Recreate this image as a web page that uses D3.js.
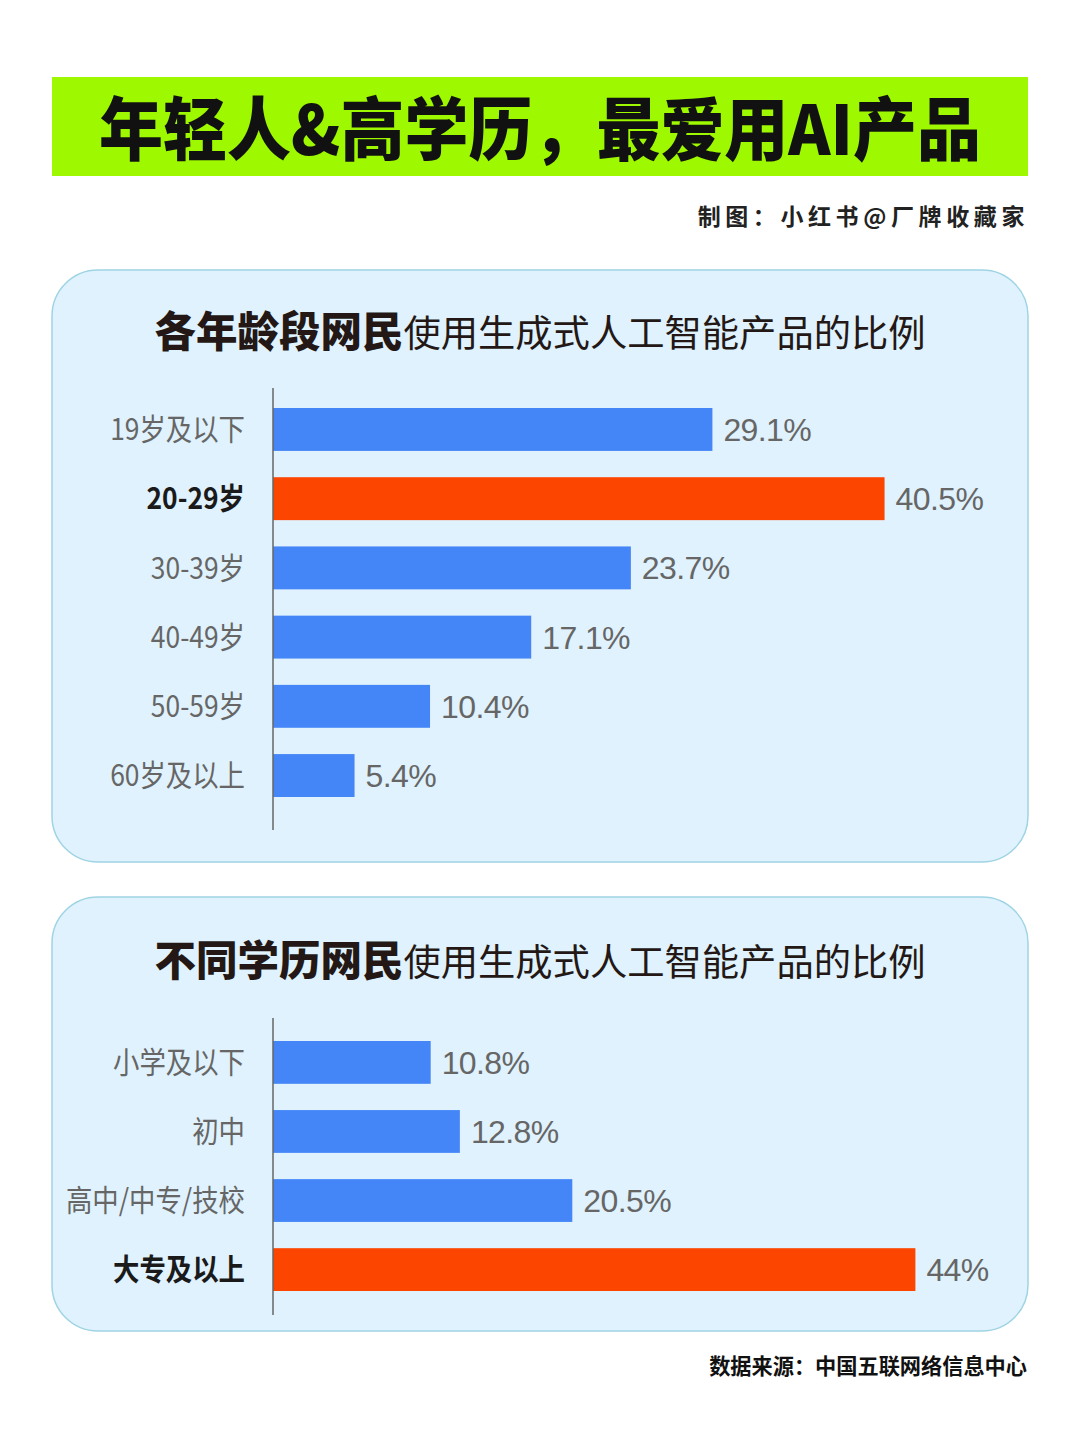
<!DOCTYPE html>
<html>
<head>
<meta charset="utf-8">
<script src="https://cdn.jsdelivr.net/npm/d3@7"></script>
<style>
  html, body { margin: 0; padding: 0; background: #fff; }
  svg { display: block; }
</style>
</head>
<body>
<svg id="chart" width="1080" height="1439"></svg>
<script>
var age_cats = ['19岁及以下', '20-29岁', '30-39岁', '40-49岁', '50-59岁', '60岁及以上'];
var age_vals = [29.1, 40.5, 23.7, 17.1, 10.4, 5.4];
var age_labels = ['29.1%', '40.5%', '23.7%', '17.1%', '10.4%', '5.4%'];
var age_highlight = '20-29岁';

var edu_cats = ['小学及以下', '初中', '高中/中专/技校', '大专及以上'];
var edu_vals = [10.8, 12.8, 20.5, 44];
var edu_labels = ['10.8%', '12.8%', '20.5%', '44%'];
var edu_highlight = '大专及以上';

var cjk = '"Noto Sans CJK SC", "Noto Sans", sans-serif';
var num_font = '"Liberation Sans", Arial, sans-serif';
var blue = '#4486f7', orange = '#fc4600';

var svg = d3.select('#chart');

// title bar
svg.append('rect')
    .attr('x', 52).attr('y', 77).attr('width', 976).attr('height', 99)
    .attr('fill', '#9ef800');
svg.append('text')
    .attr('transform', 'translate(540,155) scale(1,1.08)')
    .attr('text-anchor', 'middle')
    .style('font-family', cjk).style('font-weight', 900).style('font-size', '64px')
    .attr('fill', '#111')
    .text('年轻人&高学历，最爱用AI产品');

svg.append('text')
    .attr('x', 1029).attr('y', 225)
    .attr('text-anchor', 'end')
    .style('font-family', cjk).style('font-weight', 700).style('font-size', '23px')
    .style('letter-spacing', '4.6px')
    .attr('fill', '#222')
    .text('制图：小红书@厂牌收藏家');

svg.append('text')
    .attr('x', 1027).attr('y', 1374)
    .attr('text-anchor', 'end')
    .style('font-family', cjk).style('font-weight', 700).style('font-size', '21.2px')
    .attr('fill', '#111')
    .text('数据来源：中国五联网络信息中心');


function drawPanel(cfg) {
    var g = svg.append('g');

    g.append('rect')
        .attr('x', 52).attr('y', cfg.top).attr('width', 976).attr('height', cfg.height)
        .attr('rx', 46).attr('ry', 46)
        .attr('fill', '#e0f2fd').attr('stroke', '#9fd4e4').attr('stroke-width', 1.5);

    var title = g.append('text')
        .attr('x', 540).attr('y', cfg.titleY)
        .attr('text-anchor', 'middle')
        .attr('fill', '#231815')
        .style('font-family', cjk);
    title.append('tspan').style('font-weight', 900).style('font-size', '41.5px').text(cfg.titleBold);
    title.append('tspan').style('font-weight', 400).style('font-size', '37.3px').text('使用生成式人工智能产品的比例');

    var y = d3.scaleBand()
        .domain(cfg.cats)
        .range(cfg.barRange)
        .paddingInner(0.38)
        .paddingOuter(0);

    var x = d3.scaleLinear()
        .domain([0, 50])
        .range([273, 273 + 50 * cfg.pxPer]);

    var rows = cfg.cats.map((c, i) => ({cat: c, val: cfg.vals[i], label: cfg.labels[i]}));

    g.selectAll('.bar').data(rows).enter().append('rect')
        .attr('class', 'bar')
        .attr('x', x(0))
        .attr('y', d => y(d.cat))
        .attr('width', d => x(d.val) - x(0))
        .attr('height', y.bandwidth())
        .attr('fill', d => d.cat == cfg.highlight ? orange : blue);

    g.selectAll('.val').data(rows).enter().append('text')
        .attr('class', 'val')
        .attr('x', d => x(d.val) + 11)
        .attr('y', d => y(d.cat) + y.bandwidth() / 2)
        .attr('dy', '0.36em')
        .style('font-family', num_font).style('font-size', '32px')
        .style('letter-spacing', '-0.6px')
        .attr('fill', '#666')
        .text(d => d.label);

    // category names: slightly condensed like the original face
    g.selectAll('.cat').data(rows).enter().append('text')
        .attr('class', 'cat')
        .attr('transform', d => `translate(245,${y(d.cat) + y.bandwidth() / 2}) scale(0.88,1)`)
        .attr('dy', '0.36em')
        .attr('text-anchor', 'end')
        .style('font-family', cjk).style('font-size', '30px')
        .style('font-weight', d => d.cat == cfg.highlight ? 700 : 400)
        .attr('fill', d => d.cat == cfg.highlight ? '#1a1a1a' : '#666')
        .text(d => d.cat);

    g.append('line')
        .attr('x1', 273).attr('x2', 273)
        .attr('y1', cfg.axisRange[0]).attr('y2', cfg.axisRange[1])
        .attr('stroke', '#666').attr('stroke-width', 1.5);
}

drawPanel({
    top: 270, height: 592, titleY: 347,
    titleBold: '各年龄段网民',
    cats: age_cats, vals: age_vals, labels: age_labels, highlight: age_highlight,
    barRange: [408, 797], axisRange: [388, 830], pxPer: 15.1
});

drawPanel({
    top: 897, height: 434, titleY: 976,
    titleBold: '不同学历网民',
    cats: edu_cats, vals: edu_vals, labels: edu_labels, highlight: edu_highlight,
    barRange: [1041, 1291], axisRange: [1018, 1315], pxPer: 14.6
});
</script>
</body>
</html>
